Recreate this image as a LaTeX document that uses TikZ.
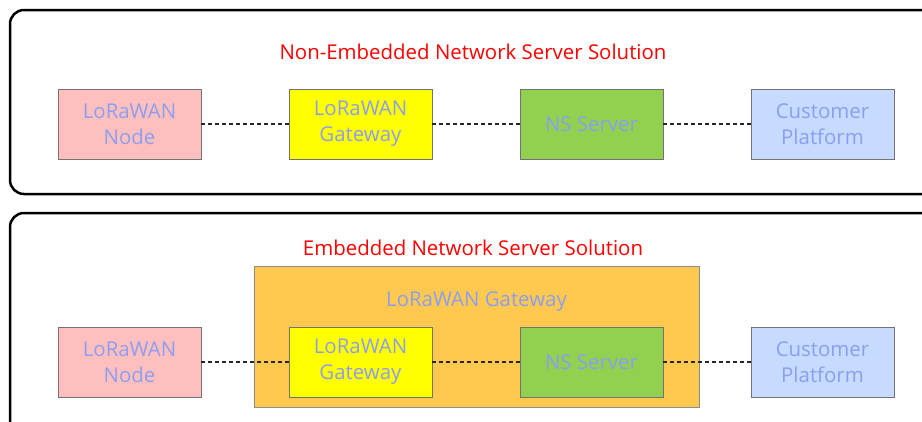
\documentclass[tikz,border=0pt]{standalone}
\usepackage{fontspec}
\setmainfont{Open Sans}
\begin{document}
\begin{tikzpicture}[x=1bp,y=-1bp,
  outer/.style={draw=black,line width=2.5bp,rounded corners=14bp},
  blk/.style={draw=black!55,line width=0.9bp,minimum width=143bp,minimum height=70bp,inner sep=0pt,
    font=\fontsize{20.5}{26}\selectfont,text=txtblue,align=center},
  ttl/.style={font=\fontsize{20.5}{24}\selectfont,text=red},
  link/.style={draw=black!85,line width=1.8bp,dash pattern=on 4bp off 3bp}]
\definecolor{txtblue}{HTML}{8C9EF0}
\definecolor{pinkf}{HTML}{FFBFBF}
\definecolor{yelf}{HTML}{FFFF00}
\definecolor{grnf}{HTML}{92D050}
\definecolor{bluef}{HTML}{C6DBFF}
\definecolor{orgf}{HTML}{FFC94F}
\useasboundingbox (0,0) rectangle (922,421);
\begin{scope}
\clip (0,0) rectangle (922,421);
\draw[outer] (10,10) rectangle (960,194);
\draw[outer] (10,213) rectangle (960,460);
\end{scope}
\node[ttl] (t1) at (473,51.5) {Non-Embedded Network Server Solution};
\node[blk,fill=pinkf] (n1) at (129.5,124) {\raisebox{-1.5bp}{\parbox{140bp}{\centering LoRaWAN\\Node}}};
\node[blk,fill=yelf] (g1) at (360.5,124) {\raisebox{-1.5bp}{\parbox{140bp}{\centering LoRaWAN\\Gateway}}};
\node[blk,fill=grnf] (s1) at (591.5,124) {NS Server};
\node[blk,fill=bluef] (c1) at (822.5,124) {\raisebox{-1.5bp}{\parbox{140bp}{\centering Customer\\Platform}}};
\draw[link] (n1) -- (g1);
\draw[link] (g1) -- (s1);
\draw[link] (s1) -- (c1);
\node[ttl] (t2) at (473,247.5) {Embedded Network Server Solution};
\node[draw=black!45,line width=0.9bp,fill=orgf,minimum width=445bp,minimum height=141bp,inner sep=0pt] (og) at (476.5,336.5) {};
\node[font=\fontsize{20.5}{24}\selectfont,text=txtblue] (ogl) at (476.5,302) {LoRaWAN Gateway};
\node[blk,fill=pinkf] (n2) at (129.5,362) {\raisebox{-1.5bp}{\parbox{140bp}{\centering LoRaWAN\\Node}}};
\node[blk,fill=yelf] (g2) at (360.5,362) {\raisebox{-1.5bp}{\parbox{140bp}{\centering LoRaWAN\\Gateway}}};
\node[blk,fill=grnf] (s2) at (591.5,362) {NS Server};
\node[blk,fill=bluef] (c2) at (822.5,362) {\raisebox{-1.5bp}{\parbox{140bp}{\centering Customer\\Platform}}};
\draw[link] (n2) -- (g2);
\draw[link] (g2) -- (s2);
\draw[link] (s2) -- (c2);
\end{tikzpicture}
\end{document}
